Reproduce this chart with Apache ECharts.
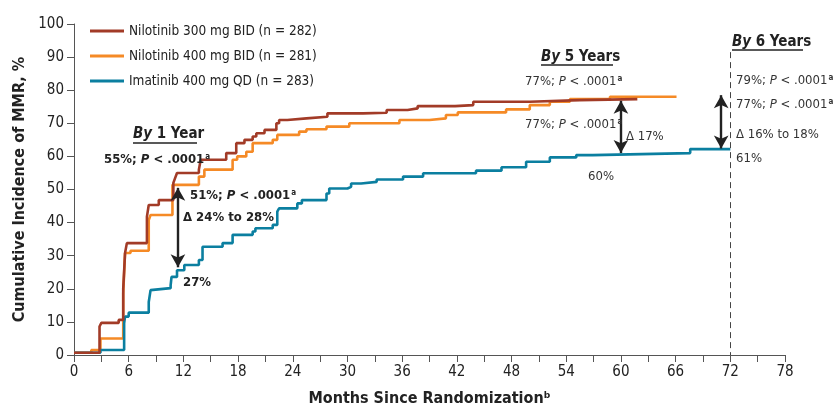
<!DOCTYPE html>
<html><head><meta charset="utf-8">
<script src="https://cdn.jsdelivr.net/npm/echarts@6/dist/echarts.min.js"></script>
<style>html,body{margin:0;padding:0;background:#fff}#c{width:833px;height:412px}</style>
</head><body><div id="c"></div>
<script>
// ---- Data ----
const seriesNames = ['Nilotinib 300 mg BID (n = 282)', 'Nilotinib 400 mg BID (n = 281)', 'Imatinib 400 mg QD (n = 283)'];
const nilo300 = [[0,0.7],[2.8,8.6],[3.0,9.7],[4.9,10.6],[5.4,20],[5.6,30.8],[5.8,33.8],[8.0,41.8],[8.2,45.3],[9.3,46.8],[10.9,52],[11.1,53.5],[11.3,55],[13.7,56],[13.9,59],[16.7,61],[17.8,64],[18.7,65],[19.6,66],[20,67],[20.9,68],[22.2,70],[22.5,71],[23.4,71.5],[25.5,72],[27.8,73],[31.7,73.2],[34.3,74],[36.6,74.5],[37.7,75.2],[41.8,75.5],[43.8,76.5],[50,77],[55.5,77.3],[61.8,77.3]];
const nilo400 = [[0,0.7],[1.9,1.5],[2.9,5],[5.4,18.6],[5.6,30.8],[6.2,31.5],[8.2,40.8],[8.4,42.3],[10.8,51.4],[13.7,53.9],[14.3,56],[17.4,59],[17.9,60],[18.9,61.4],[19.6,64],[21.8,65],[22.3,66.5],[24.7,67.5],[25.5,68.2],[27.7,69],[30.2,70],[35.7,71],[39,71.5],[40.8,72.5],[42.1,73.3],[47.4,74.2],[50,75.5],[52.2,76.5],[54.4,77.3],[58.8,78],[66.1,78]];
const imat400 = [[0,0.7],[2.9,1.5],[5.5,9.6],[5.6,11.6],[6.0,12.8],[8.2,16],[8.4,19.6],[8.6,20.2],[10.6,21],[10.7,23.6],[11.3,25.6],[12.1,27.2],[13.7,28.7],[14.1,32.7],[16.3,33.8],[17.4,36.3],[19.6,37.3],[19.9,38.3],[21.8,39.3],[22.3,43.3],[22.5,44.3],[24.5,45.8],[25,46.8],[27.7,48.8],[28,50.3],[30,50.8],[30.4,51.8],[31.5,52.3],[33.2,53],[36.1,53.9],[38.3,54.9],[44.1,55.7],[46.9,56.7],[49.6,58.4],[52.2,59.7],[55.1,60.4],[56.9,61],[67.6,62.2],[72,62.2]];
// arrows: [month, from %, to %]
const arrows = [[11.4, 50.5, 26.5], [60, 76.8, 61], [71, 78.5, 62.4]];
const cutoffMonth = 72;
const cutoffTop = 91.5;

const colors = ['#a23b27', '#f58a26', '#0b7fa0'];
const FF = '"DejaVu Sans Condensed", "Liberation Sans Narrow", sans-serif';

const chart = echarts.init(document.getElementById('c'));

function txt(x, y, s, opts) {
  opts = opts || {};
  const size = opts.size || 13;
  const w = opts.weight || 'bold';
  const fill = opts.fill || '#222';
  return {
    type: 'text', x: x, y: y, z: 100,
    style: {
      text: s, fill: fill, fontSize: size, fontFamily: FF, fontWeight: w,
      textAlign: 'left', textVerticalAlign: 'middle', align: 'left', verticalAlign: 'middle',
      rich: {
        i: {fontStyle: 'italic', fontWeight: w, fontSize: size, fontFamily: FF, fill: fill},
        bi: {fontStyle: 'italic', fontWeight: 'bold', fontSize: size, fontFamily: FF, fill: '#222'},
        sup: {fontSize: 8, fontWeight: 'bold', fontFamily: FF, fill: fill, padding: [0, 0, 7, 1]}
      }
    }
  };
}
function uline(x1, x2, y) {
  return {type: 'line', z: 100, shape: {x1: x1, y1: y, x2: x2, y2: y}, style: {stroke: '#222', lineWidth: 1.3}};
}

const pTxt = (v) => v + '; {i|P} < .0001{sup|a}';
const light = {weight: 'normal', fill: '#333'};

const graphics = [
  txt(133, 134, '{bi|By} 1 Year', {size: 15}), uline(133, 197, 143),
  txt(104, 160, pTxt('55%')),
  txt(190, 196, pTxt('51%')),
  txt(183, 218, 'Δ 24% to 28%'),
  txt(183, 283, '27%'),
  txt(541, 57, '{bi|By} 5 Years', {size: 15}), uline(541, 613, 65),
  txt(525, 82, pTxt('77%'), light),
  txt(525, 125, pTxt('77%'), light),
  txt(626, 137, 'Δ 17%', light),
  txt(588, 177, '60%', light),
  txt(732, 42, '{bi|By} 6 Years', {size: 15}), uline(732, 803, 50),
  txt(736, 81, pTxt('79%'), light),
  txt(736, 105, pTxt('77%'), light),
  txt(736, 135, 'Δ 16% to 18%', light),
  txt(736, 159, '61%', light)
];

const arrowLines = arrows.map(a => [{coord: [a[0], a[1]]}, {coord: [a[0], a[2]]}]);

const option = {
  animation: false,
  grid: {left: 74, right: 48, top: 24, bottom: 57},
  legend: {
    left: 85, top: 19, orient: 'vertical', itemWidth: 34, itemHeight: 3, itemGap: 11,
    icon: 'rect',
    data: seriesNames,
    textStyle: {fontSize: 13.5, lineHeight: 14, fontFamily: FF, color: '#222'}
  },
  xAxis: {
    type: 'value', min: 0, max: 78, interval: 3,
    name: 'Months Since Randomizationᵇ', nameLocation: 'middle', nameGap: 36,
    nameTextStyle: {fontSize: 16, fontWeight: 'bold', fontFamily: FF, color: '#222'},
    axisLine: {lineStyle: {color: '#555', width: 1}},
    axisTick: {length: 7, lineStyle: {color: '#555'}},
    axisLabel: {fontSize: 15, fontFamily: FF, color: '#222', margin: 10,
      formatter: v => (v % 6 === 0 ? String(v) : '')},
    splitLine: {show: false}
  },
  yAxis: {
    type: 'value', min: 0, max: 100, interval: 10,
    name: 'Cumulative Incidence of MMR, %', nameLocation: 'middle', nameGap: 46,
    nameTextStyle: {fontSize: 16, fontWeight: 'bold', fontFamily: FF, color: '#222'},
    axisLine: {show: true, lineStyle: {color: '#555', width: 1}},
    axisTick: {show: true, length: 7, lineStyle: {color: '#555'}},
    axisLabel: {fontSize: 15, fontFamily: FF, color: '#222', margin: 10},
    splitLine: {show: false}
  },
  series: [
    {name: seriesNames[0], type: 'line', step: 'end', symbol: 'none', data: nilo300, z: 4,
     lineStyle: {color: colors[0], width: 2.6}, itemStyle: {color: colors[0]}},
    {name: seriesNames[1], type: 'line', step: 'end', symbol: 'none', data: nilo400, z: 3,
     lineStyle: {color: colors[1], width: 2.6}, itemStyle: {color: colors[1]}},
    {name: seriesNames[2], type: 'line', step: 'end', symbol: 'none', data: imat400, z: 3,
     lineStyle: {color: colors[2], width: 2.6}, itemStyle: {color: colors[2]},
     markLine: {
       silent: true, symbol: ['arrow', 'arrow'], symbolSize: [11, 13], label: {show: false},
       lineStyle: {color: '#222', width: 2.4, type: 'solid'},
       data: arrowLines
     }},
    {type: 'line', data: [], symbol: 'none',
     markLine: {
       silent: true, symbol: ['none', 'none'], label: {show: false},
       lineStyle: {color: '#444', width: 1, type: [6, 4]},
       data: [[{coord: [cutoffMonth, cutoffTop]}, {coord: [cutoffMonth, 0]}]]
     }}
  ],
  graphic: graphics
};
chart.setOption(option);
</script>
</body></html>
